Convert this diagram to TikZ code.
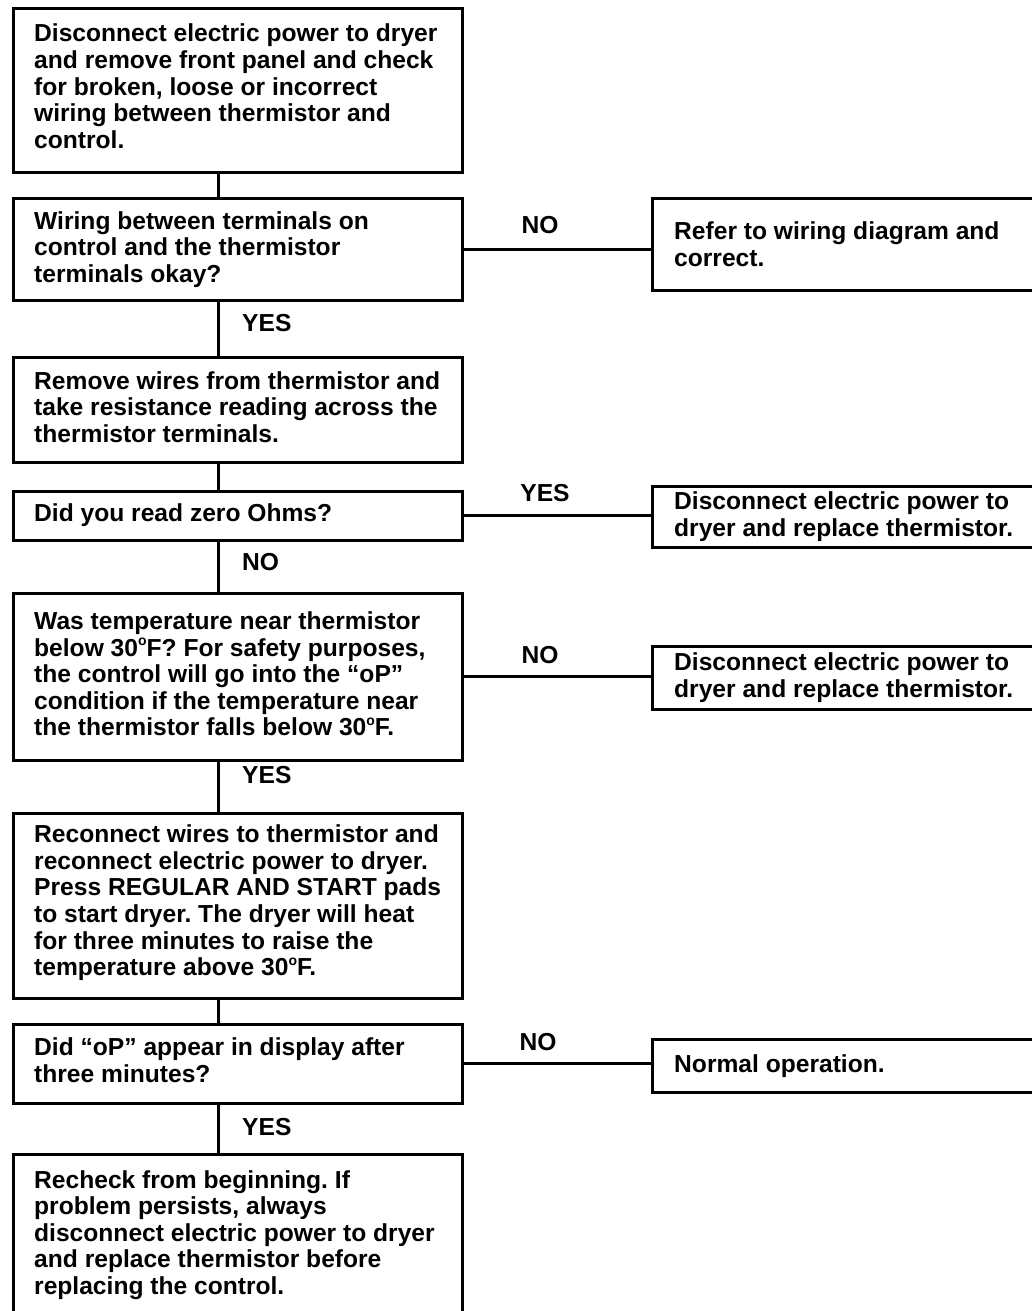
\documentclass[tikz,border=0pt]{standalone}
\usepackage{fontspec}
\setmainfont{Liberation Sans}
\frenchspacing
\newcommand{\dg}{\raisebox{0.43em}{\fontsize{14}{14}\selectfont o}}
\tikzset{
  box/.style={draw, line width=2.8pt, rectangle, inner sep=0pt, anchor=north west},
  txt/.style={font=\fontsize{24.6}{26.6}\selectfont\bfseries, align=left, inner sep=0pt, anchor=west},
  lbl/.style={font=\fontsize{24.6}{26.6}\selectfont\bfseries, inner sep=0pt},
  vlbl/.style={lbl, anchor=west},
  link/.style={line width=3pt}
}
\begin{document}
\begin{tikzpicture}[x=1pt, y=-1pt]
\useasboundingbox[fill=white] (0,0) rectangle (1031,1311);
% left column boxes
\node[box, minimum width=449pt, minimum height=164pt] (b1) at (12,7) {};
\node[box, minimum width=449pt, minimum height=102pt] (b2) at (12,197) {};
\node[box, minimum width=449pt, minimum height=105pt] (b3) at (12,356) {};
\node[box, minimum width=449pt, minimum height=49pt] (b4) at (12,490) {};
\node[box, minimum width=449pt, minimum height=167pt] (b5) at (12,592) {};
\node[box, minimum width=449pt, minimum height=185pt] (b6) at (12,812) {};
\node[box, minimum width=449pt, minimum height=79pt] (b7) at (12,1023) {};
\node[box, minimum width=449pt, minimum height=161pt] (b8) at (12,1153) {};
% right column boxes
\node[box, minimum width=400pt, minimum height=92pt] (r1) at (651,197) {};
\node[box, minimum width=400pt, minimum height=61pt] (r2) at (651,485) {};
\node[box, minimum width=400pt, minimum height=63pt] (r3) at (651,645) {};
\node[box, minimum width=400pt, minimum height=53pt] (r4) at (651,1038) {};
% texts
\node[txt, yshift=4pt] (t1) at ([xshift=22pt]b1.west) {Disconnect electric power to dryer\\and remove front panel and check\\for broken, loose or incorrect\\wiring between thermistor and\\control.};
\node[txt] (t2) at ([xshift=22pt]b2.west) {Wiring between terminals on\\control and the thermistor\\terminals okay?};
\node[txt, yshift=3pt] (t3) at ([xshift=22pt]b3.west) {Remove wires from thermistor and\\take resistance reading across the\\thermistor terminals.};
\node[txt, yshift=1pt] (t4) at ([xshift=22pt]b4.west) {Did you read zero Ohms?};
\node[txt, yshift=3pt] (t5) at ([xshift=22pt]b5.west) {Was temperature near thermistor\\below 30\dg F? For safety purposes,\\the control will go into the “oP”\\condition if the temperature near\\the thermistor falls below 30\dg F.};
\node[txt, yshift=3pt] (t6) at ([xshift=22pt]b6.west) {Reconnect wires to thermistor and\\reconnect electric power to dryer.\\Press REGULAR AND START pads\\to start dryer. The dryer will heat\\for three minutes to raise the\\temperature above 30\dg F.};
\node[txt, yshift=4pt] (t7) at ([xshift=22pt]b7.west) {Did “oP” appear in display after\\three minutes?};
\node[txt] (t8) at ([xshift=22pt]b8.west) {Recheck from beginning. If\\problem persists, always\\disconnect electric power to dryer\\and replace thermistor before\\replacing the control.};
\node[txt] (s1) at ([xshift=23pt]r1.west) {Refer to wiring diagram and\\correct.};
\node[txt] (s2) at ([xshift=23pt]r2.west) {Disconnect electric power to\\dryer and replace thermistor.};
\node[txt] (s3) at ([xshift=23pt]r3.west) {Disconnect electric power to\\dryer and replace thermistor.};
\node[txt] (s4) at ([xshift=23pt]r4.west) {Normal operation.};
% vertical connectors
\coordinate (v) at (218,0);
\draw[link] (b1.south -| v) -- (b2.north -| v);
\draw[link] (b2.south -| v) -- (b3.north -| v);
\draw[link] (b3.south -| v) -- (b4.north -| v);
\draw[link] (b4.south -| v) -- (b5.north -| v);
\draw[link] (b5.south -| v) -- (b6.north -| v);
\draw[link] (b6.south -| v) -- (b7.north -| v);
\draw[link] (b7.south -| v) -- (b8.north -| v);
% horizontal connectors
\draw[link] (b2.east) -- (b2.east -| r1.west);
\draw[link] (b4.east) -- (b4.east -| r2.west);
\draw[link] (b5.east) -- (b5.east -| r3.west);
\draw[link] (b7.east) -- (b7.east -| r4.west);
% labels
\node[lbl] (n1) at (540,225) {NO};
\node[lbl] (n2) at (545,493) {YES};
\node[lbl] (n3) at (540,655) {NO};
\node[lbl] (n4) at (538,1042) {NO};
\node[vlbl] (y1) at (242,323) {YES};
\node[vlbl] (y2) at (242,562) {NO};
\node[vlbl] (y3) at (242,775) {YES};
\node[vlbl] (y4) at (242,1127) {YES};
\end{tikzpicture}
\end{document}
